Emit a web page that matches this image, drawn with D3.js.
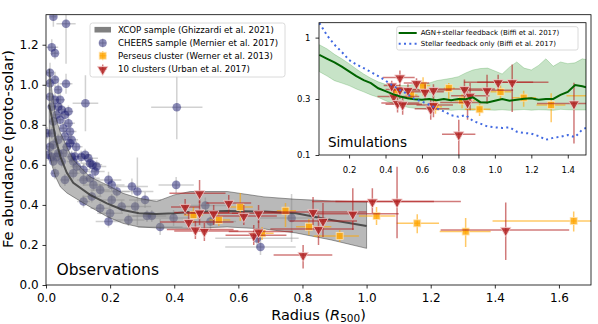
<!DOCTYPE html>
<html>
<head>
<meta charset="utf-8">
<script src="https://cdn.jsdelivr.net/npm/d3@7"></script>
<style>
body { margin: 0; background: #fff; }
svg { font-family: "DejaVu Sans", sans-serif; }
</style>
</head>
<body>
<div id="chart"></div>
<script>
// XCOP (Ghizzardi et al. 2021): median profile and scatter band
var xcopR   = [0.01, 0.02, 0.03, 0.045, 0.065, 0.085, 0.1375, 0.19, 0.24, 0.29, 0.345, 0.4, 0.45, 0.565, 0.68, 0.78, 0.89, 1.0];
var xcopMed = [0.90, 0.82, 0.73, 0.64, 0.56, 0.51, 0.45, 0.408, 0.375, 0.358, 0.355, 0.358, 0.365, 0.37, 0.367, 0.358, 0.325, 0.295];
var xcopHi  = [1.08, 0.95, 0.84, 0.76, 0.69, 0.625, 0.54, 0.5, 0.458, 0.433, 0.417, 0.45, 0.467, 0.467, 0.44, 0.428, 0.42, 0.415];
var xcopLo  = [0.66, 0.59, 0.54, 0.49, 0.46, 0.44, 0.39, 0.342, 0.308, 0.29, 0.285, 0.284, 0.283, 0.29, 0.28, 0.26, 0.225, 0.183];

// CHEERS (Mernier et al. 2017)
var cheersR     = [0.023, 0.0625, 0.018, 0.028, 0.0125, 0.0125, 0.0625, 0.038, 0.123, 0.408, 0.028, 0.0125, 0.028, 0.044, 0.038, 0.018, 0.049, 0.033, 0.059, 0.07,
                   0.044, 0.023, 0.07, 0.054, 0.075, 0.018, 0.059, 0.038, 0.08, 0.065, 0.094, 0.0125, 0.11, 0.132, 0.08, 0.033, 0.145, 0.158, 0.018, 0.004,
                   0.023, 0.075, 0.007, 0.038, 0.054, 0.023, 0.049, 0.09, 0.122, 0.085, 0.1375, 0.096, 0.117, 0.028, 0.059, 0.085, 0.153, 0.117, 0.1375, 0.195,
                   0.148, 0.205, 0.221, 0.169, 0.268, 0.285, 0.406, 0.309, 0.117, 0.143, 0.205, 0.236, 0.278, 0.169, 0.2, 0.257, 0.195, 0.315, 0.33, 0.398,
                   0.497, 0.356, 0.513, 0.658, 0.669, 0.766];
var cheersFe    = [1.34, 1.305, 1.187, 1.158, 1.06, 1.008, 1.005, 0.975, 0.908, 0.888, 1.025, 0.94, 0.925, 0.925, 0.89, 0.89, 0.875, 0.85, 0.85, 0.867,
                   0.825, 0.817, 0.808, 0.783, 0.767, 0.758, 0.742, 0.725, 0.725, 0.69, 0.69, 0.69, 0.64, 0.633, 0.64, 0.64, 0.6, 0.592, 0.64, 0.758,
                   0.7, 0.708, 0.65, 0.658, 0.658, 0.617, 0.617, 0.642, 0.65, 0.617, 0.608, 0.592, 0.575, 0.558, 0.525, 0.558, 0.567, 0.525, 0.533, 0.525,
                   0.5, 0.5, 0.467, 0.475, 0.492, 0.467, 0.5, 0.425, 0.417, 0.442, 0.425, 0.392, 0.392, 0.383, 0.358, 0.325, 0.317, 0.345, 0.345, 0.335,
                   0.397, 0.29, 0.317, 0.233, 0.19, 0.335];
var cheersRerr  = [0.01, 0.03, 0.02, 0.01, 0.01, 0.01, 0.02, 0.01, 0.04, 0.08, 0.01, 0.01, 0.01, 0.015, 0.01, 0.01, 0.01, 0.01, 0.015, 0.015,
                   0.01, 0.01, 0.02, 0.01, 0.02, 0.01, 0.015, 0.01, 0.02, 0.015, 0.02, 0.01, 0.02, 0.03, 0.02, 0.01, 0.03, 0.03, 0.01, 0.01,
                   0.01, 0.015, 0.005, 0.01, 0.01, 0.01, 0.01, 0.02, 0.02, 0.02, 0.03, 0.02, 0.02, 0.01, 0.015, 0.02, 0.03, 0.02, 0.03, 0.04,
                   0.03, 0.04, 0.04, 0.03, 0.05, 0.05, 0.055, 0.05, 0.02, 0.03, 0.04, 0.04, 0.05, 0.03, 0.04, 0.05, 0.04, 0.06, 0.06, 0.07,
                   0.08, 0.07, 0.08, 0.13, 0.11, 0.1];
var cheersFeErr = [0.05, 0.2, 0.04, 0.03, 0.05, 0.04, 0.05, 0.04, 0.14, 0.16, 0.04, 0.04, 0.04, 0.04, 0.04, 0.03, 0.03, 0.03, 0.04, 0.03,
                   0.03, 0.03, 0.03, 0.03, 0.04, 0.03, 0.03, 0.03, 0.03, 0.03, 0.03, 0.03, 0.03, 0.03, 0.03, 0.03, 0.03, 0.03, 0.03, 0.03,
                   0.03, 0.03, 0.03, 0.03, 0.03, 0.03, 0.03, 0.03, 0.03, 0.03, 0.03, 0.03, 0.03, 0.03, 0.03, 0.03, 0.03, 0.03, 0.03, 0.04,
                   0.03, 0.03, 0.03, 0.03, 0.04, 0.17, 0.04, 0.04, 0.03, 0.03, 0.03, 0.03, 0.03, 0.03, 0.03, 0.03, 0.03, 0.03, 0.03, 0.04,
                   0.04, 0.04, 0.04, 0.05, 0.04, 0.12];

// Perseus cluster (Werner et al. 2013)
var perseusR    = [0.46, 0.539, 0.606, 0.674, 0.747, 0.82, 0.916, 1.031, 1.158, 1.309, 1.646];
var perseusFe   = [0.35, 0.325, 0.39, 0.258, 0.371, 0.291, 0.245, 0.345, 0.308, 0.267, 0.32];
var perseusRlo  = [0.43, 0.51, 0.57, 0.64, 0.72, 0.78, 0.835, 0.976, 1.094, 1.228, 1.393];
var perseusRhi  = [0.49, 0.575, 0.645, 0.71, 0.78, 0.89, 0.976, 1.09, 1.226, 1.387, 1.75];
var perseusFeLo = [0.31, 0.295, 0.32, 0.225, 0.29, 0.25, 0.215, 0.30, 0.258, 0.19, 0.267];
var perseusFeHi = [0.39, 0.355, 0.46, 0.29, 0.41, 0.33, 0.275, 0.39, 0.353, 0.335, 0.367];

// 10 clusters (Urban et al. 2017)
var urbanR    = [0.434, 0.445, 0.466, 0.479, 0.479, 0.494, 0.523, 0.57, 0.617, 0.648, 0.663, 0.663, 0.802, 0.833, 0.85, 0.864, 0.957, 1.018, 1.095, 1.434];
var urbanFe   = [0.39, 0.315, 0.277, 0.458, 0.362, 0.27, 0.358, 0.41, 0.345, 0.248, 0.358, 0.267, 0.15, 0.365, 0.28, 0.32, 0.356, 0.417, 0.417, 0.275];
var urbanRlo  = [0.39, 0.356, 0.377, 0.385, 0.40, 0.40, 0.44, 0.50, 0.53, 0.56, 0.58, 0.57, 0.71, 0.68, 0.70, 0.76, 0.82, 0.83, 0.903, 1.231];
var urbanRhi  = [0.48, 0.585, 0.585, 0.56, 0.57, 0.60, 0.62, 0.64, 0.72, 0.75, 0.76, 0.77, 0.893, 1.0, 0.96, 0.97, 1.1, 1.21, 1.294, 1.632];
var urbanFeLo = [0.35, 0.28, 0.23, 0.41, 0.30, 0.22, 0.30, 0.36, 0.30, 0.20, 0.31, 0.21, 0.083, 0.30, 0.20, 0.24, 0.275, 0.36, 0.233, 0.125];
var urbanFeHi = [0.43, 0.36, 0.32, 0.525, 0.42, 0.31, 0.40, 0.45, 0.40, 0.30, 0.40, 0.32, 0.20, 0.44, 0.35, 0.41, 0.483, 0.483, 0.59, 0.412];

// simulations (Biffi et al. 2017)
var simR      = [0.037, 0.08, 0.12, 0.16, 0.2, 0.24, 0.28, 0.32, 0.36, 0.4, 0.44, 0.48, 0.52, 0.56, 0.6, 0.64, 0.68, 0.72, 0.76,
                 0.8, 0.84, 0.88, 0.92, 0.96, 1.0, 1.04, 1.08, 1.12, 1.16, 1.2, 1.24, 1.28, 1.32, 1.36, 1.4, 1.44, 1.48, 1.5];
var agnFe     = [0.713, 0.66, 0.615, 0.565, 0.515, 0.47, 0.435, 0.41, 0.37, 0.35, 0.33, 0.315, 0.305, 0.298, 0.296, 0.30, 0.293, 0.30, 0.293,
                 0.30, 0.298, 0.31, 0.282, 0.28, 0.29, 0.30, 0.29, 0.296, 0.302, 0.305, 0.296, 0.30, 0.30, 0.325, 0.345, 0.395, 0.385, 0.378];
var agnHi     = [0.87, 0.80, 0.72, 0.66, 0.60, 0.54, 0.49, 0.45, 0.42, 0.40, 0.385, 0.39, 0.39, 0.40, 0.40, 0.41, 0.43, 0.44, 0.45,
                 0.465, 0.50, 0.53, 0.545, 0.55, 0.52, 0.49, 0.56, 0.62, 0.55, 0.53, 0.58, 0.66, 0.57, 0.62, 0.60, 0.61, 0.66, 0.65];
var agnLo     = [0.513, 0.47, 0.43, 0.41, 0.39, 0.365, 0.345, 0.325, 0.31, 0.29, 0.275, 0.265, 0.255, 0.25, 0.248, 0.245, 0.243, 0.245, 0.24,
                 0.243, 0.242, 0.24, 0.244, 0.242, 0.241, 0.243, 0.24, 0.242, 0.244, 0.241, 0.243, 0.242, 0.24, 0.245, 0.243, 0.242, 0.242, 0.242];
var stellarFe = [1.33, 1.04, 0.87, 0.755, 0.645, 0.59, 0.55, 0.51, 0.47, 0.43, 0.39, 0.358, 0.33, 0.30, 0.285, 0.268, 0.25, 0.235, 0.218,
                 0.212, 0.219, 0.195, 0.185, 0.175, 0.172, 0.17, 0.172, 0.158, 0.154, 0.152, 0.145, 0.135, 0.14, 0.143, 0.148, 0.142, 0.165, 0.17];

var xTicks = [0.0, 0.2, 0.4, 0.6, 0.8, 1.0, 1.2, 1.4, 1.6];
var yTicks = [0.0, 0.2, 0.4, 0.6, 0.8, 1.0, 1.2];
var insetXTicks = [0.2, 0.4, 0.6, 0.8, 1.0, 1.2, 1.4];
var insetYTicks = [0.1, 0.3, 1];

var width = 598, height = 324;
var blue = "#191970", orange = "#ffa500", red = "#b22222";

var svg = d3.select("#chart")
    .append("svg")
    .attr("width", width)
    .attr("height", height);

var x = d3.scaleLinear().domain([0, 1.7]).range([46, 591]);
var y = d3.scaleLinear().domain([0, 1.35]).range([285, 14.7]);

var defs = svg.append("defs");
defs.append("clipPath").attr("id", "clipMain").append("rect")
    .attr("x", 46).attr("y", 14.7).attr("width", 545).attr("height", 270.3);

function toPoints(R, Fe, rlo, rhi, flo, fhi) {
    return R.map(function (r, i) {
        return { r: r, fe: Fe[i], r0: rlo[i], r1: rhi[i], f0: flo[i], f1: fhi[i] };
    });
}

var cheers = toPoints(cheersR, cheersFe,
    cheersR.map((r, i) => r - cheersRerr[i]), cheersR.map((r, i) => r + cheersRerr[i]),
    cheersFe.map((f, i) => f - cheersFeErr[i]), cheersFe.map((f, i) => f + cheersFeErr[i]));
var perseus = toPoints(perseusR, perseusFe, perseusRlo, perseusRhi, perseusFeLo, perseusFeHi);
var urban = toPoints(urbanR, urbanFe, urbanRlo, urbanRhi, urbanFeLo, urbanFeHi);

function drawErrors(g, data, sx, sy, color, opacity) {
    g.selectAll(null).data(data).enter().append("line")
        .attr("x1", d => sx(d.r0)).attr("x2", d => sx(d.r1))
        .attr("y1", d => sy(d.fe)).attr("y2", d => sy(d.fe))
        .attr("stroke", color).attr("stroke-opacity", opacity).attr("stroke-width", 1.5);
    g.selectAll(null).data(data).enter().append("line")
        .attr("x1", d => sx(d.r)).attr("x2", d => sx(d.r))
        .attr("y1", d => sy(Math.max(d.f0, sy.domain()[0] * 0.5))).attr("y2", d => sy(d.f1))
        .attr("stroke", color).attr("stroke-opacity", opacity).attr("stroke-width", 1.5);
}

function drawSquares(g, data, sx, sy) {
    g.selectAll(null).data(data).enter().append("rect")
        .attr("x", d => sx(d.r) - 3.5).attr("y", d => sy(d.fe) - 3.5)
        .attr("width", 7).attr("height", 7)
        .attr("fill", orange).attr("fill-opacity", 0.8)
        .attr("stroke", "#ffe3b0").attr("stroke-width", 0.8);
}

var triangle = d3.symbol().type(d3.symbolTriangle).size(48);
function drawTriangles(g, data, sx, sy) {
    g.selectAll(null).data(data).enter().append("path")
        .attr("d", triangle)
        .attr("transform", d => "translate(" + sx(d.r) + "," + (sy(d.fe) + 0.5) + ") rotate(180)")
        .attr("fill", red).attr("fill-opacity", 0.8)
        .attr("stroke", "#f4d0d0").attr("stroke-width", 0.8);
}

// main panel
var main = svg.append("g").attr("clip-path", "url(#clipMain)");

drawErrors(main, cheers, x, y, "#999999", 0.45);
main.selectAll(null).data(cheers).enter().append("circle")
    .attr("cx", d => x(d.r)).attr("cy", d => y(d.fe)).attr("r", 4.3)
    .attr("fill", blue).attr("fill-opacity", 0.5);

var xcop = xcopR.map((r, i) => ({ r: r, med: xcopMed[i], lo: xcopLo[i], hi: xcopHi[i] }));
main.append("path")
    .datum(xcop)
    .attr("d", d3.area().x(d => x(d.r)).y0(d => y(d.lo)).y1(d => y(d.hi)))
    .attr("fill", "#808080").attr("fill-opacity", 0.55)
    .attr("stroke", "#333").attr("stroke-opacity", 0.6).attr("stroke-width", 0.8);
main.append("path")
    .datum(xcop)
    .attr("d", d3.line().x(d => x(d.r)).y(d => y(d.med)))
    .attr("fill", "none").attr("stroke", "#333").attr("stroke-opacity", 0.8).attr("stroke-width", 2);

drawErrors(main, perseus, x, y, orange, 0.6);
drawSquares(main, perseus, x, y);
drawErrors(main, urban, x, y, red, 0.6);
drawTriangles(main, urban, x, y);

// main axes
var xAxis = svg.append("g")
    .attr("transform", "translate(0,285)")
    .call(d3.axisBottom(x).tickValues(xTicks).tickFormat(d3.format(".1f")).tickSize(3.5).tickSizeOuter(0).tickPadding(4.5));
var yAxis = svg.append("g")
    .attr("transform", "translate(46,0)")
    .call(d3.axisLeft(y).tickValues(yTicks).tickFormat(d3.format(".1f")).tickSize(3.5).tickSizeOuter(0).tickPadding(3.8));
[xAxis, yAxis].forEach(function (a) {
    a.select(".domain").remove();
    a.selectAll("text").attr("font-size", 12).attr("font-family", "DejaVu Sans").attr("fill", "#000");
    a.selectAll("line").attr("stroke", "#000").attr("stroke-width", 0.8);
});
svg.append("rect")
    .attr("x", 46).attr("y", 14.7).attr("width", 545).attr("height", 270.3)
    .attr("fill", "none").attr("stroke", "#000").attr("stroke-width", 0.8);

svg.append("text")
    .attr("transform", "translate(13.3,149) rotate(-90)")
    .attr("text-anchor", "middle")
    .attr("font-size", 14.6)
    .text("Fe abundance (proto-solar)");

var xlab = svg.append("text")
    .attr("x", 318.5).attr("y", 319.5)
    .attr("text-anchor", "middle")
    .attr("font-size", 14.5);
xlab.append("tspan").text("Radius (");
xlab.append("tspan").attr("font-style", "italic").text("R");
xlab.append("tspan").attr("font-size", 10.5).attr("dy", 2.5).text("500");
xlab.append("tspan").attr("dy", -2.5).text(")");

svg.append("text")
    .attr("x", 56.5).attr("y", 275)
    .attr("font-size", 15.5)
    .text("Observations");

// main legend
var legend = svg.append("g").attr("transform", "translate(90,23)");
legend.append("rect")
    .attr("width", 195).attr("height", 54).attr("rx", 2.5)
    .attr("fill", "#fff").attr("fill-opacity", 0.8)
    .attr("stroke", "#d0d0d0").attr("stroke-width", 0.8);
var legendLabels = ["XCOP sample (Ghizzardi et al. 2021)", "CHEERS sample (Mernier et al. 2017)",
    "Perseus cluster (Werner et al. 2013)", "10 clusters (Urban et al. 2017)"];
var rowY = [6.7, 20, 32.7, 46];
legendLabels.forEach(function (t, i) {
    legend.append("text")
        .attr("x", 28).attr("y", rowY[i]).attr("dy", "0.35em")
        .attr("font-size", 8.6).text(t);
});
legend.append("rect").attr("x", 4.5).attr("y", rowY[0] - 2.8).attr("width", 16.5).attr("height", 5.6).attr("fill", "#808080");
function legendErr(cy, color, op) {
    legend.append("line").attr("x1", 9).attr("x2", 16.5).attr("y1", cy).attr("y2", cy)
        .attr("stroke", color).attr("stroke-opacity", op).attr("stroke-width", 1.5);
    legend.append("line").attr("x1", 12.7).attr("x2", 12.7).attr("y1", cy - 4.5).attr("y2", cy + 4.5)
        .attr("stroke", color).attr("stroke-opacity", op).attr("stroke-width", 1.5);
}
legendErr(rowY[1], "#999999", 0.45);
legend.append("circle").attr("cx", 12.7).attr("cy", rowY[1]).attr("r", 4).attr("fill", blue).attr("fill-opacity", 0.5);
legendErr(rowY[2], orange, 0.6);
drawSquares(legend, [{ r: 12.7, fe: rowY[2] }], d => d, d => d);
legendErr(rowY[3], red, 0.6);
drawTriangles(legend, [{ r: 12.7, fe: rowY[3] }], d => d, d => d);

// inset: simulations
var xi = d3.scaleLinear().domain([0.035, 1.5]).range([319, 586]);
var yi = d3.scaleLog().domain([0.1, 1.34]).range([155, 22.7]);

defs.append("clipPath").attr("id", "clipInset").append("rect")
    .attr("x", 319).attr("y", 22.7).attr("width", 267).attr("height", 132.3);

svg.append("rect")
    .attr("x", 319).attr("y", 22.7).attr("width", 267).attr("height", 132.3)
    .attr("fill", "#fff");

var inset = svg.append("g").attr("clip-path", "url(#clipInset)");
var sim = simR.map((r, i) => ({ r: r, agn: agnFe[i], lo: agnLo[i], hi: agnHi[i], st: stellarFe[i] }));

inset.append("path")
    .datum(sim)
    .attr("d", d3.area().x(d => xi(d.r)).y0(d => yi(d.lo)).y1(d => yi(d.hi)))
    .attr("fill", "green").attr("fill-opacity", 0.22)
    .attr("stroke", "green").attr("stroke-opacity", 0.25).attr("stroke-width", 0.8);

drawErrors(inset, perseus, xi, yi, orange, 0.6);
drawSquares(inset, perseus, xi, yi);
drawErrors(inset, urban, xi, yi, red, 0.6);
drawTriangles(inset, urban, xi, yi);

inset.append("path")
    .datum(sim)
    .attr("d", d3.line().x(d => xi(d.r)).y(d => yi(d.agn)))
    .attr("fill", "none").attr("stroke", "#006400").attr("stroke-width", 2);
inset.append("path")
    .datum(sim)
    .attr("d", d3.line().x(d => xi(d.r)).y(d => yi(d.st)))
    .attr("fill", "none").attr("stroke", "#4169e1").attr("stroke-width", 2)
    .attr("stroke-dasharray", "2,3.3");

var xiAxis = svg.append("g")
    .attr("transform", "translate(0,155)")
    .call(d3.axisBottom(xi).tickValues(insetXTicks).tickFormat(d3.format(".1f")).tickSize(3.5).tickSizeOuter(0).tickPadding(8));
var yiAxis = svg.append("g")
    .attr("transform", "translate(319,0)")
    .call(d3.axisLeft(yi).tickValues(insetYTicks).tickFormat(d => d === 1 ? "1" : d3.format(".1f")(d)).tickSize(3.5).tickSizeOuter(0).tickPadding(5));
[xiAxis, yiAxis].forEach(function (a) {
    a.select(".domain").remove();
    a.selectAll("text").attr("font-size", 8.5).attr("font-family", "DejaVu Sans").attr("fill", "#000");
    a.selectAll("line").attr("stroke", "#000").attr("stroke-width", 0.8);
});
svg.append("rect")
    .attr("x", 319).attr("y", 22.7).attr("width", 267).attr("height", 132.3)
    .attr("fill", "none").attr("stroke", "#000").attr("stroke-width", 0.8);

svg.append("text")
    .attr("x", 328).attr("y", 146.5)
    .attr("font-size", 13.5)
    .text("Simulations");

// inset legend
var ilegend = svg.append("g").attr("transform", "translate(396.7,26.7)");
ilegend.append("rect")
    .attr("width", 181.3).attr("height", 23.3).attr("rx", 2)
    .attr("fill", "#fff").attr("fill-opacity", 0.8)
    .attr("stroke", "#d0d0d0").attr("stroke-width", 0.8);
ilegend.append("line").attr("x1", 2).attr("x2", 20).attr("y1", 6.3).attr("y2", 6.3)
    .attr("stroke", "#006400").attr("stroke-width", 2);
ilegend.append("line").attr("x1", 2).attr("x2", 20).attr("y1", 17).attr("y2", 17)
    .attr("stroke", "#4169e1").attr("stroke-width", 2).attr("stroke-dasharray", "2,3.3");
ilegend.append("text").attr("x", 24).attr("y", 6.3).attr("dy", "0.35em")
    .attr("font-size", 7).text("AGN+stellar feedback (Biffi et al. 2017)");
ilegend.append("text").attr("x", 24).attr("y", 17).attr("dy", "0.35em")
    .attr("font-size", 7).text("Stellar feedback only (Biffi et al. 2017)");
</script>
</body>
</html>
